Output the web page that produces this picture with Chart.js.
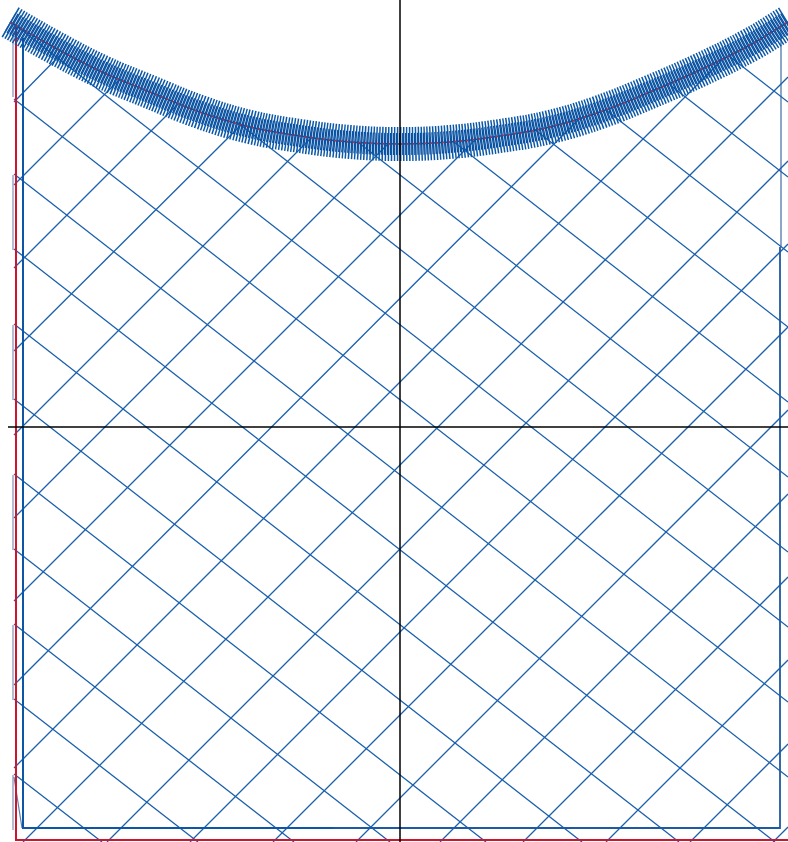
<!DOCTYPE html>
<html>
<head>
<meta charset="utf-8">
<script src="https://cdn.jsdelivr.net/npm/chart.js@4"></script>
<style>
html,body{margin:0;padding:0;background:#fff;}
#wrap{width:788px;height:842px;position:relative;}
</style>
</head>
<body>
<div id="wrap"><canvas id="c"></canvas></div>
<script>
// Top hatched curve (centre line)
const curveX = [-3.9,-3.5,-3,-2.5,-2,-1.5,-1,-0.5,0,0.5,1,1.5,2,2.5,3,3.5,3.88];
const curveY = [4.05,3.82,3.56,3.35,3.15,3.00,2.91,2.85,2.83,2.85,2.91,3.00,3.15,3.35,3.57,3.82,4.05];

// Lattice: rising lines (start -> end)
const upX0 = [-3.86,-3.86,-3.86,-3.86,-3.86,-3.86,-3.86,-3.86,-3.86,-3.77,-2.93,-2.10,-1.27,-0.44,0.40,1.23,2.06,2.90,3.73];
const upY0 = [3.25,2.42,1.59,0.76,-0.08,-0.91,-1.74,-2.58,-3.41,-4.15,-4.15,-4.15,-4.15,-4.15,-4.15,-4.15,-4.15,-4.15,-4.15];
const upX1 = [-3.37,-2.81,-2.22,-1.58,-0.89,-0.12,0.76,1.81,3.22,3.88,3.88,3.88,3.88,3.88,3.88,3.88,3.88,3.88,3.88];
const upY1 = [3.75,3.47,3.23,3.03,2.89,2.83,2.88,3.10,3.67,3.50,2.66,1.83,1.00,0.17,-0.67,-1.50,-2.33,-3.17,-4.00];

// Lattice: falling lines (start -> end)
const dnX0 = [3.29,2.70,2.06,1.34,0.54,-0.41,-1.63,-3.86,-3.86,-3.86,-3.86,-3.86,-3.86,-3.86,-3.86,-3.86,-3.86,-3.86];
const dnY0 = [3.71,3.42,3.17,2.98,2.85,2.84,3.05,4.03,3.28,2.53,1.78,1.03,0.28,-0.47,-1.22,-1.97,-2.72,-3.47];
const dnX1 = [3.88,3.88,3.88,3.88,3.88,3.88,3.88,3.88,3.88,3.88,3.75,2.79,1.82,0.86,-0.10,-1.06,-2.02,-2.98];
const dnY1 = [3.25,2.50,1.75,1.00,0.25,-0.50,-1.25,-2.00,-2.75,-3.50,-4.15,-4.15,-4.15,-4.15,-4.15,-4.15,-4.15,-4.15];

// Short light segments on the left edge
const edgeX = -3.87;
const edgeY0 = [4.02,2.52,1.02,-0.48,-1.98,-3.48];
const edgeY1 = [3.30,1.77,0.27,-1.23,-2.73,-4.03];

// Axes (zero lines)
const hAxisX = [-3.92,3.88];
const vAxisY = [4.27,-4.15];

// Red frame (left + bottom)
const redX = [-3.84,-3.84,3.88];
const redY = [4.00,-4.13,-4.13];

// Blue frame (left, bottom, right)
const blueX = [-3.77,-3.77,-0.67];
const blueY = [3.89,-4.01,-4.01];
const blue2X = [-0.67,3.80,3.80];
const blue2Y = [-4.01,-4.01,1.80];
const blue3X = [3.81,3.81];
const blue3Y = [1.80,3.97];
const slantX = [-3.86,-3.78];
const slantY = [-3.50,-4.01];

function pts(xs, ys){ return xs.map((x,i)=>({x:x,y:ys[i]})); }
function seg(x0,y0,x1,y1){ return [{x:x0,y:y0},{x:x1,y:y1}]; }

const datasets = [];
datasets.push({data: pts(hAxisX,[0,0]), borderColor:'#000', borderWidth:1.5});
datasets.push({data: pts([0,0],vAxisY), borderColor:'#000', borderWidth:1.5});
datasets.push({data: pts(curveX,curveY), borderColor:'#c8283c', borderWidth:1, borderDash:[3,3], tension:0.4});
datasets.push({data: pts(curveX,curveY), borderColor:'#0a4f9e', borderWidth:1.5, tension:0.4});
datasets.push({data: pts(curveX,curveY), borderColor:'#0a509f', borderWidth:22, borderDash:[1.3,1.7], borderDashOffset:0.9, tension:0.4, borderCapStyle:'butt'});
datasets.push({data: pts(curveX,curveY), borderColor:'#0b58a8', borderWidth:34, borderDash:[1.5,1.5], tension:0.4, borderCapStyle:'butt'});
datasets.push({data: pts(redX,redY), borderColor:'#d0142c', borderWidth:2});
datasets.push({data: pts(blueX,blueY), borderColor:'#0d56a6', borderWidth:2});
datasets.push({data: pts(blue2X,blue2Y), borderColor:'#1e5aa2', borderWidth:1.8});
datasets.push({data: pts(blue3X,blue3Y), borderColor:'#2b5f9e', borderWidth:1.1});
datasets.push({data: pts(slantX,slantY), borderColor:'#5b7fae', borderWidth:1.2});
for (let i=0;i<edgeY0.length;i++){
  datasets.push({data: seg(edgeX,edgeY0[i],edgeX,edgeY1[i]), borderColor:'#7d95b8', borderWidth:1.2});
}
for (let i=0;i<upX0.length;i++){
  datasets.push({data: seg(upX0[i],upY0[i],upX1[i],upY1[i]), borderColor:'#1a60ad', borderWidth:1.3});
}
for (let i=0;i<dnX0.length;i++){
  datasets.push({data: seg(dnX0[i],dnY0[i],dnX1[i],dnY1[i]), borderColor:'#1a60ad', borderWidth:1.3});
}
datasets.forEach(d=>{ d.showLine=true; d.pointRadius=0; d.fill=false; d.clip=false; if(d.tension===undefined) d.tension=0; });

new Chart(document.getElementById('c'), {
  type:'scatter',
  data:{datasets:datasets},
  options:{
    responsive:true,
    maintainAspectRatio:false,
    animation:false,
    events:[],
    layout:{padding:0},
    plugins:{legend:{display:false},tooltip:{enabled:false}},
    scales:{
      x:{type:'linear',min:-4.0,max:3.88,display:false},
      y:{type:'linear',min:-4.15,max:4.27,display:false}
    }
  }
});
</script>
</body>
</html>
